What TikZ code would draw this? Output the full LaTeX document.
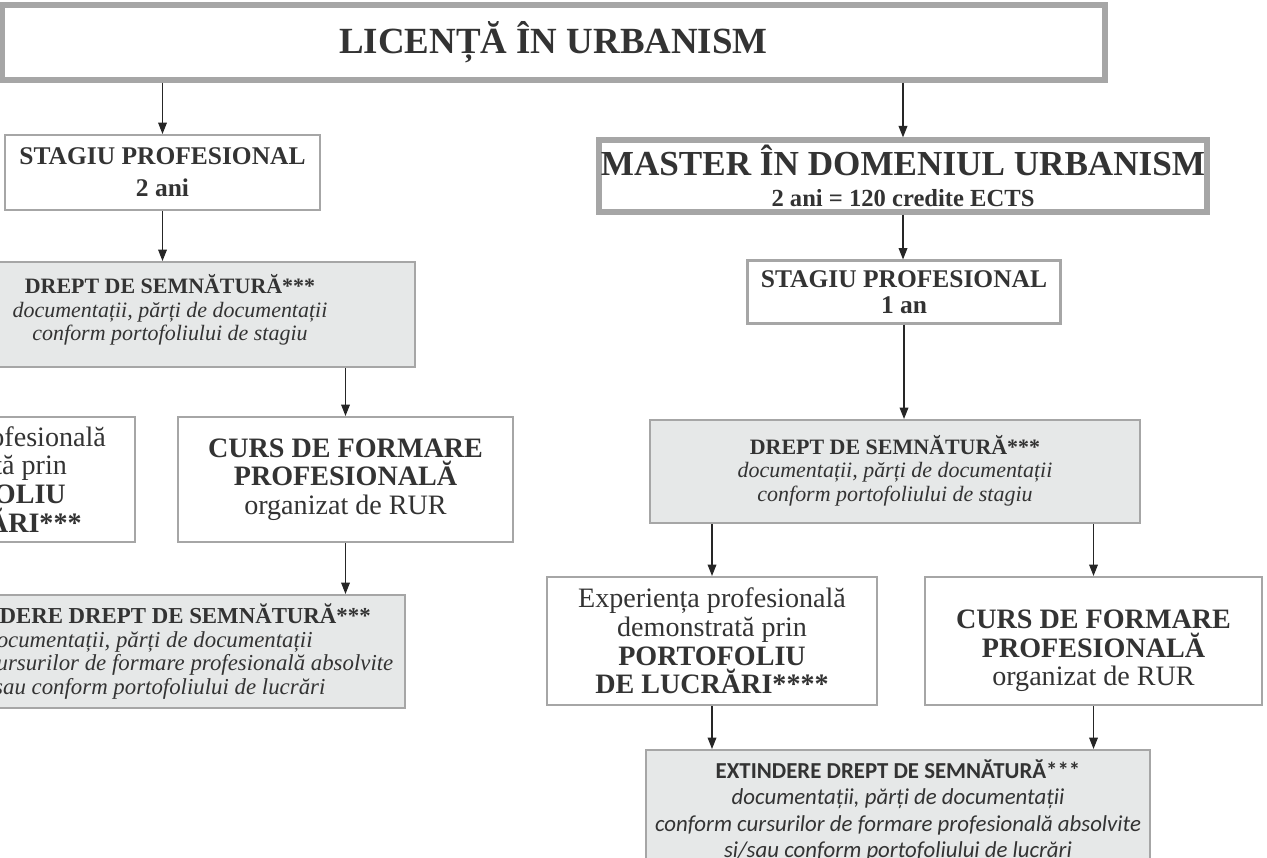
\documentclass[tikz,border=0pt]{standalone}
\usepackage{fontspec}
\setmainfont{Liberation Serif}
\newfontfamily\calibrifont{Carlito}
\usetikzlibrary{arrows.meta}
\definecolor{boxline}{HTML}{A6A6A6}
\definecolor{boxfill}{HTML}{E6E8E8}
\definecolor{inktext}{HTML}{333333}
\newcommand{\fsz}[2]{\fontsize{#1}{#2}\selectfont}
\tikzset{
  cell/.style 2 args={draw=boxline, line width=1.2pt, text=inktext, align=center,
    inner sep=0pt, minimum width=#1*0.02cm, minimum height=#2*0.02cm},
  shaded/.style={fill=boxfill},
  heavy/.style={line width=3pt},
  link/.style={-{Triangle[length=6.5pt,width=5pt]}, line width=0.6pt, black!85},
}

\begin{document}
\begin{tikzpicture}[x=0.02cm,y=-0.02cm]
  \useasboundingbox (0,0) rectangle (1267,858);
  \clip (0,0) rectangle (1267,858);
  % top
  \node[cell={1103}{75}, heavy, font=\fsz{21}{24}\bfseries] (lic) at (553.5,42.5) {LICENȚĂ ÎN URBANISM};
  % left branch
  \node[cell={315}{75}, font=\fsz{14.5}{18}\bfseries] (stagL) at (162.5,172.5) {STAGIU PROFESIONAL\\2 ani};
  \node[cell={490}{105}, shaded, font=\fsz{12.5}{13.5}] (dreptL) at (170,314.5)
    {\textbf{DREPT DE SEMNĂTURĂ***}\\\textit{documentații, părți de documentații}\\\textit{conform portofoliului de stagiu}\\[-5.5pt]};
  \node[cell={326}{125}, font=\fsz{16}{16.3}] (expL) at (-28,479.5)
    {Experiența profesională\\demonstrată prin\\\textbf{PORTOFOLIU}\\\textbf{DE LUCRĂRI***}};
  \node[cell={335}{125}, font=\fsz{16}{16.3}] (cursL) at (345.5,479.5)
    {\textbf{CURS DE FORMARE}\\\textbf{PROFESIONALĂ}\\organizat de RUR};
  \node[cell={512}{113}, shaded, font=\fsz{13}{13.6}] (extL) at (149,651.5)
    {\textbf{EXTINDERE DREPT DE SEMNĂTURĂ***}\\\textit{documentații, părți de documentații}\\\textit{conform cursurilor de formare profesională absolvite}\\\textit{și/sau conform portofoliului de lucrări}};
  % right branch
  \node[cell={608}{72}, heavy, font=\bfseries] (mast) at (903,176)
    {\fsz{20}{20}MASTER ÎN DOMENIUL URBANISM\\[5.5pt]\fsz{14}{16}2 ani = 120 credite ECTS};
  \node[cell={313}{63}, font=\fsz{14.5}{15}\bfseries] (stagR) at (904,292) {STAGIU PROFESIONAL\\1 an};
  \node[cell={490}{103}, shaded, font=\fsz{12.5}{13.5}] (dreptR) at (895,471.5)
    {\textbf{DREPT DE SEMNĂTURĂ***}\\\textit{documentații, părți de documentații}\\\textit{conform portofoliului de stagiu}\\[-10pt]};
  \node[cell={330}{128}, font=\fsz{16}{16.3}] (expR) at (712,641)
    {Experiența profesională\\demonstrată prin\\\textbf{PORTOFOLIU}\\\textbf{DE LUCRĂRI****}};
  \node[cell={337}{128}, font=\fsz{16}{16.3}] (cursR) at (1093.5,641)
    {\rule{0pt}{22pt}\textbf{CURS DE FORMARE}\\\textbf{PROFESIONALĂ}\\organizat de RUR};
  \node[cell={504}{112}, shaded, font=\calibrifont\fsz{13}{15}] (extR) at (898,806)
    {\rule{0pt}{16pt}\textbf{EXTINDERE DREPT DE SEMNĂTURĂ***}\\\textit{documentații, părți de documentații}\\\textit{conform cursurilor de formare profesională absolvite}\\\textit{și/sau conform portofoliului de lucrări}};
  % arrows
  \draw[link] (lic.south -| stagL.north) -- (stagL.north);
  \draw[link] (lic.south -| mast.north) -- (mast.north);
  \draw[link] (stagL.south) -- (stagL.south |- dreptL.north);
  \draw[link] (dreptL.south -| cursL.north) -- (cursL.north);
  \draw[link] (cursL.south) -- (cursL.south |- extL.north);
  \draw[link] (mast.south) -- (mast.south |- stagR.north);
  \draw[link] (stagR.south) -- (stagR.south |- dreptR.north);
  \draw[link] (dreptR.south -| expR.north) -- (expR.north);
  \draw[link] (dreptR.south -| cursR.north) -- (cursR.north);
  \draw[link] (expR.south) -- (expR.south |- extR.north);
  \draw[link] (cursR.south) -- (cursR.south |- extR.north);
\end{tikzpicture}
\end{document}
